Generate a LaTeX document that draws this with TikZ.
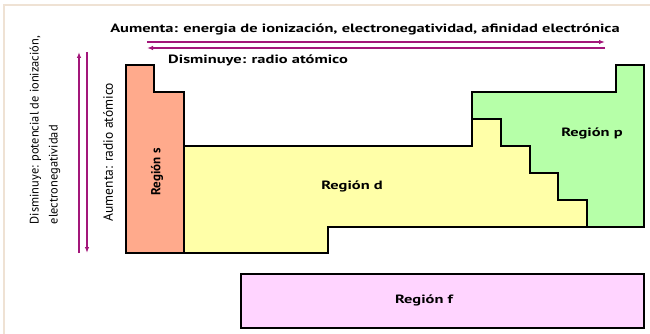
\documentclass[tikz,border=0pt]{standalone}
\usepackage{fontspec}
\setmainfont{PT Sans}
\newfontfamily\anchafont[FakeStretch=1.37]{PT Sans}
\usetikzlibrary{arrows.meta}
\definecolor{flecha}{HTML}{A3167A}
\definecolor{colS}{HTML}{FFAA8C}
\definecolor{colD}{HTML}{FFFFA8}
\definecolor{colP}{HTML}{B6FFA8}
\definecolor{colF}{HTML}{FFD4FF}
\definecolor{marco}{HTML}{EFE2D4}
\begin{document}
\begin{tikzpicture}[x=1pt,y=-1pt,
    region/.style={draw=black, line width=1.8pt, line join=miter},
    etiq/.style={font=\anchafont\bfseries\fontsize{12}{14}\selectfont, inner sep=1pt},
    etiqr/.style={font=\bfseries\fontsize{13}{15}\selectfont, inner sep=1pt, rotate=90},
    etiqv/.style={font=\fontsize{13.5}{19}\selectfont, inner sep=1pt, rotate=90},
    flechas/.style={draw=flecha, line width=1.3pt, -{Latex[length=6pt,width=4.5pt]}}]
  \useasboundingbox (0,0) rectangle (650,334) ;
  \draw[marco, line width=2pt] (4,334) -- (4,5) -- (650,5) ;
  % bloques de la tabla
  \draw[region, fill=colS] (126,65) -- (154,65) -- (154,92) -- (184,92)
    -- (184,253) -- (126,253) -- cycle ;
  \draw[region, fill=colD] (184,146) -- (472,146) -- (472,119) -- (501,119)
    -- (501,146) -- (530,146) -- (530,173) -- (558,173) -- (558,200)
    -- (587,200) -- (587,227) -- (328,227) -- (328,253) -- (184,253) -- cycle ;
  \draw[region, fill=colP] (472,92) -- (616,92) -- (616,65) -- (644,65)
    -- (644,227) -- (587,227) -- (587,200) -- (558,200) -- (558,173)
    -- (530,173) -- (530,146) -- (501,146) -- (501,119) -- (472,119) -- cycle ;
  \draw[region, fill=colF] (241,274) rectangle (644,328) ;
  \node[etiqr] (regS) at (157,172) {Región s} ;
  \node[etiq] (regD) at (352,186) {Región d} ;
  \node[etiq] (regP) at (592,133) {Región p} ;
  \node[etiq] (regF) at (424,300) {Región f} ;
  % flechas horizontales
  \coordinate (hIzq1) at (147,42) ;
  \coordinate (hDer1) at (605,42) ;
  \coordinate (hIzq2) at (147,48) ;
  \coordinate (hDer2) at (605,48) ;
  \draw[flechas] (hIzq1) -- (hDer1) ;
  \draw[flechas] (hDer2) -- (hIzq2) ;
  \node[etiq] (aumH) at (365,29) {Aumenta: energia de ionización, electronegatividad, afinidad electrónica} ;
  \node[etiq, anchor=west] (disH) at (167,60) {Disminuye: radio atómico} ;
  % flechas verticales
  \coordinate (vAbj1) at (79,253) ;
  \coordinate (vArr1) at (79,52) ;
  \coordinate (vAbj2) at (87,253) ;
  \coordinate (vArr2) at (87,52) ;
  \draw[flechas] (vAbj1) -- (vArr1) ;
  \draw[flechas] (vArr2) -- (vAbj2) ;
  \node[etiqv, font=\fontsize{12.4}{19}\selectfont, align=left] (disV) at (45,130) {Disminuye: potencial de ionización,\\electronegatividad} ;
  \node[etiqv] (aumV) at (108,152) {Aumenta: radio atómico} ;
\end{tikzpicture}
\end{document}
